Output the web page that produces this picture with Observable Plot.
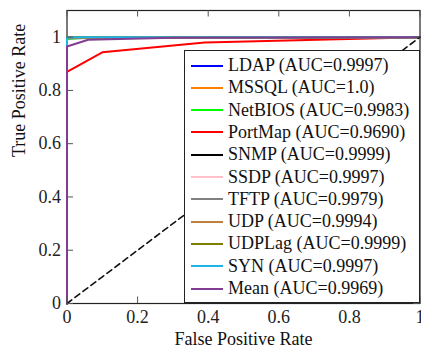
<!DOCTYPE html>
<html>
<head>
<meta charset="utf-8">
<script src="https://cdn.jsdelivr.net/npm/d3@7"></script>
<script src="https://cdn.jsdelivr.net/npm/@observablehq/plot@0.6"></script>
<style>
  html, body { margin: 0; padding: 0; background: #fff; overflow: hidden; }
  #wrap { position: relative; width: 421px; height: 349px; font-family: 'Liberation Serif', serif; }
  #legend { position: absolute; left: 184px; top: 50px; width: 234px; height: 251px; border: 1.3px solid #222; background: #fff; box-sizing: content-box; }
  .row { position: absolute; left: 0; height: 22px; display: flex; align-items: center; font-family: 'Liberation Serif', serif; font-size: 18px; color: #111; white-space: nowrap; }
  .sw { width: 32px; height: 2px; margin-left: 6px; margin-right: 5px; }
</style>
</head>
<body>
<div id="wrap"><div id="chart"></div><div id="legend"></div></div>
<script>
// ROC curve points as [FPR, TPR]
const LDAP    = [[0,0],[0,0.998],[0.02,1],[1,1]];
const MSSQL   = [[0,0],[0,1],[1,1]];
const NetBIOS = [[0,0],[0,0.993],[0.05,0.998],[1,1]];
const PortMap = [[0,0],[0,0.87],[0.1,0.943],[0.39,0.98],[1,1]];
const SNMP    = [[0,0],[0,0.9998],[1,1]];
const SSDP    = [[0,0],[0,0.999],[1,1]];
const TFTP    = [[0,0],[0,0.995],[0.1,0.998],[1,1]];
const UDP     = [[0,0],[0,0.998],[1,1]];
const UDPLag  = [[0,0],[0,0.9998],[1,1]];
const SYN     = [[0,0],[0,0.999],[0.05,0.9995],[1,1]];
const Mean    = [[0,0],[0,0.965],[0.06,0.99],[0.3,0.998],[1,1]];
const Chance  = [[0,0],[1,1]];

const seriesNames = ["LDAP","MSSQL","NetBIOS","PortMap","SNMP","SSDP","TFTP","UDP","UDPLag","SYN","Mean"];
const seriesData  = [LDAP, MSSQL, NetBIOS, PortMap, SNMP, SSDP, TFTP, UDP, UDPLag, SYN, Mean];
const aucValues   = ["0.9997","1.0","0.9983","0.9690","0.9999","0.9997","0.9979","0.9994","0.9999","0.9997","0.9969"];
const colors      = ["#0000ff","#ff8000","#00ff00","#ff0000","#000000","#ffc0cb","#808080","#bf8040","#808000","#1cb4ea","#843c90"];

const xTicks = [0, 0.2, 0.4, 0.6, 0.8, 1];
const yTicks = [0, 0.2, 0.4, 0.6, 0.8, 1];

const serif = "'Liberation Serif', serif";
const lineMarks = seriesData.map((pts, i) =>
  Plot.line(pts, {x: d => d[0], y: d => d[1], stroke: colors[i], strokeWidth: 2})
);

const frameH = 293, frameW = 353;
const plot = Plot.plot({
  width: 421,
  height: 349,
  marginLeft: 66.5,
  marginRight: 1.5,
  marginTop: 10,
  marginBottom: 46,
  style: {fontFamily: serif, fontSize: "18px", color: "#111", background: "#fff"},
  x: {domain: [0, 1]},
  y: {domain: [0, 1.1]},
  marks: [
    Plot.frame({stroke: "#222", strokeWidth: 1.2}),
    ...lineMarks,
    Plot.line(Chance, {x: d => d[0], y: d => d[1], stroke: "#111", strokeWidth: 1.6, strokeDasharray: "6,4"}),
    Plot.tickX(xTicks, {x: d => d, insetTop: frameH - 6.5, stroke: "#555"}),
    Plot.tickX(xTicks, {x: d => d, insetBottom: frameH - 6.5, stroke: "#555"}),
    Plot.tickY(yTicks, {y: d => d, insetRight: frameW - 6.5, stroke: "#555"}),
    Plot.tickY(yTicks, {y: d => d, insetLeft: frameW - 6.5, stroke: "#555"}),
    Plot.axisX(xTicks, {tickSize: 0, tickPadding: 7, tickFormat: d => String(d), label: null, fontSize: 18, fontFamily: serif, fill: "#222"}),
    Plot.axisY(yTicks, {tickSize: 0, tickPadding: 6, tickFormat: d => String(d), label: null, fontSize: 18, fontFamily: serif, fill: "#222"}),
    Plot.text(["False Positive Rate"], {text: d => d, frameAnchor: "bottom", lineAnchor: "middle", dy: 36, fontSize: 18, fontFamily: serif, fill: "#111"}),
    Plot.text(["True Positive Rate"], {text: d => d, frameAnchor: "left", lineAnchor: "middle", dx: -48, rotate: -90, fontSize: 18, fontFamily: serif, fill: "#111"})
  ]
});
document.getElementById("chart").appendChild(plot);

const legend = document.getElementById("legend");
seriesNames.forEach((name, i) => {
  const row = document.createElement("div");
  row.className = "row";
  row.style.top = (3.5 + i * 22.3) + "px";
  const sw = document.createElement("div");
  sw.className = "sw";
  sw.style.background = colors[i];
  const t = document.createElement("span");
  t.textContent = `${name} (AUC=${aucValues[i]})`;
  row.appendChild(sw);
  row.appendChild(t);
  legend.appendChild(row);
});
</script>
</body>
</html>
